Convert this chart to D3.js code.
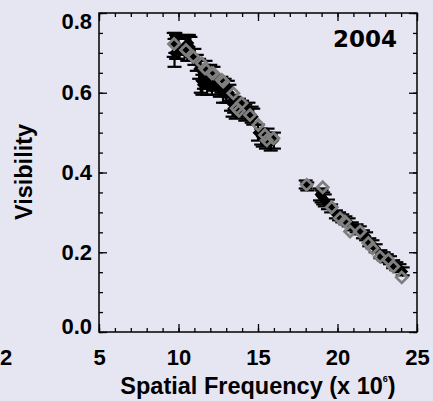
<!DOCTYPE html>
<html><head><meta charset="utf-8">
<script src="https://cdn.jsdelivr.net/npm/d3@7"></script>
<style>html,body{margin:0;padding:0;background:#e6e6f2;}svg{display:block}</style>
</head><body><svg id="c" width="433" height="401"></svg>
<script>
// ---- data ----
const xTicks = [5, 10, 15, 20, 25];
const yTicks = [0.0, 0.2, 0.4, 0.6, 0.8];
const yearLabel = "2004";
const xTitle = "Spatial Frequency (x 10";
const xTitleSup = "6";
const yTitle = "Visibility";
// observed visibilities (black, with error bars)
const obsFreq = [9.70, 9.75, 9.80, 9.85, 9.90, 10.00, 10.45, 10.55, 10.65, 10.75, 11.00, 11.15,
                 11.30, 11.40, 11.50, 11.60, 11.70, 11.80, 11.90, 12.00, 12.10, 12.20, 12.30,
                 12.60, 12.70, 12.80, 12.90, 13.00, 13.10, 13.20,
                 13.30, 13.40, 13.50, 13.60, 13.80, 14.00, 14.20, 14.40, 14.60, 14.70,
                 15.00, 15.20, 15.30, 15.50, 15.60, 15.80, 16.00,
                 18.00, 18.10, 18.90, 19.00, 19.10, 19.20, 19.40, 19.60, 19.90, 20.10, 20.30, 20.50, 20.70, 20.90,
                 21.20, 21.40, 21.60, 21.80, 22.00, 22.20, 22.40, 22.70, 22.90, 23.10, 23.30, 23.50, 23.70, 23.90, 24.10];
const obsVis  = [0.720, 0.700, 0.725, 0.715, 0.720, 0.710, 0.720, 0.710, 0.725, 0.715, 0.690, 0.675,
                 0.660, 0.630, 0.620, 0.640, 0.655, 0.620, 0.630, 0.645, 0.615, 0.640, 0.625,
                 0.610, 0.620, 0.600, 0.615, 0.595, 0.610, 0.600,
                 0.575, 0.560, 0.570, 0.555, 0.565, 0.560, 0.550, 0.555, 0.545, 0.540,
                 0.500, 0.490, 0.485, 0.480, 0.490, 0.475, 0.480,
                 0.370, 0.365, 0.345, 0.340, 0.335, 0.330, 0.320, 0.310, 0.295, 0.290, 0.285, 0.280, 0.275, 0.265,
                 0.260, 0.255, 0.245, 0.240, 0.225, 0.220, 0.210, 0.195, 0.190, 0.185, 0.180, 0.170, 0.165, 0.160, 0.152];
const obsErr  = [0.030, 0.035, 0.025, 0.030, 0.020, 0.025, 0.025, 0.030, 0.020, 0.025, 0.020, 0.020,
                 0.025, 0.030, 0.025, 0.030, 0.025, 0.025, 0.020, 0.025, 0.020, 0.025, 0.020,
                 0.020, 0.020, 0.025, 0.020, 0.020, 0.020, 0.020,
                 0.020, 0.020, 0.020, 0.020, 0.020, 0.020, 0.020, 0.020, 0.020, 0.020,
                 0.020, 0.020, 0.020, 0.020, 0.020, 0.020, 0.020,
                 0.010, 0.010, 0.015, 0.015, 0.015, 0.015, 0.012, 0.010, 0.010, 0.010, 0.010, 0.010, 0.010, 0.010,
                 0.010, 0.010, 0.010, 0.010, 0.010, 0.010, 0.010, 0.010, 0.010, 0.010, 0.010, 0.010, 0.010, 0.010, 0.010];
// model visibilities (grey open diamonds)
const modelFreq = [9.72, 10.47, 10.93, 11.46, 11.67, 12.09, 12.19, 12.72, 12.82, 13.45, 13.66, 13.80, 13.97, 14.50, 15.02, 15.44, 15.55, 15.97,
                   18.06, 19.07, 19.64, 20.16, 20.47, 20.79, 21.42, 21.94, 22.20, 22.67, 23.20, 23.51, 24.04];
const modelVis  = [0.722, 0.707, 0.690, 0.674, 0.661, 0.649, 0.649, 0.632, 0.628, 0.599, 0.561, 0.555, 0.574, 0.544, 0.519, 0.494, 0.481, 0.486,
                   0.369, 0.363, 0.313, 0.285, 0.277, 0.252, 0.252, 0.223, 0.210, 0.189, 0.181, 0.164, 0.137];

// ---- chart ----
const svg = d3.select("#c");
const L = 99, R = 417, T = 13, B = 332;
const x = d3.scaleLinear().domain([5, 25]).range([L, R]);
const y = d3.scaleLinear().domain([0, 0.8]).range([B, T]);
const FONT = "'Liberation Sans', Arial, Helvetica, sans-serif";

const xMinor = d3.range(5, 25.001, 1);
const yMinor = d3.range(0, 0.8001, 0.05);

function styleAxis(g) {
  g.select(".domain").remove();
  g.selectAll(".tick line").attr("stroke", "#000").attr("stroke-width", 1.3);
  g.selectAll("text").attr("font-family", FONT).attr("font-weight", "bold").attr("font-size", 22).attr("fill", "#000");
}
// minor ticks
svg.append("g").attr("transform", `translate(0,${B})`).call(d3.axisBottom(x).tickValues(xMinor).tickSize(-4).tickFormat("")).call(styleAxis);
svg.append("g").attr("transform", `translate(0,${T})`).call(d3.axisTop(x).tickValues(xMinor).tickSize(-4).tickFormat("")).call(styleAxis);
svg.append("g").attr("transform", `translate(${L},0)`).call(d3.axisLeft(y).tickValues(yMinor).tickSize(-4).tickFormat("")).call(styleAxis);
svg.append("g").attr("transform", `translate(${R},0)`).call(d3.axisRight(y).tickValues(yMinor).tickSize(-4).tickFormat("")).call(styleAxis);
// major ticks
svg.append("g").attr("transform", `translate(0,${B})`)
  .call(d3.axisBottom(x).tickValues(xTicks).tickSize(-8).tickPadding(17).tickFormat(d3.format("d"))).call(styleAxis);
svg.append("g").attr("transform", `translate(0,${T})`).call(d3.axisTop(x).tickValues(xTicks).tickSize(-8).tickFormat("")).call(styleAxis);
const yl = svg.append("g").attr("transform", `translate(${L},0)`)
  .call(d3.axisLeft(y).tickValues(yTicks).tickSize(-8).tickPadding(7).tickFormat(d3.format(".1f"))).call(styleAxis);
svg.append("g").attr("transform", `translate(${R},0)`).call(d3.axisRight(y).tickValues(yTicks).tickSize(-8).tickFormat("")).call(styleAxis);
// keep end labels inside (as in the original)
yl.selectAll(".tick text").attr("transform", d => d === 0.8 ? "translate(0,8)" : (d === 0 ? "translate(0,-6)" : null));

// frame
svg.append("rect").attr("x", L).attr("y", T).attr("width", R - L).attr("height", B - T)
  .attr("fill", "none").attr("stroke", "#000").attr("stroke-width", 1.5);

// label from neighbouring panel (cut at the edge in the original)
svg.append("text").attr("x", 0).attr("y", 365).text("2")
  .attr("font-family", FONT).attr("font-weight", "bold").attr("font-size", 22);

// error bars
const obs = obsFreq.map((f, i) => ({ f, v: obsVis[i], e: obsErr[i] }));
const eg = svg.append("g").attr("stroke", "#000").attr("stroke-width", 2.2);
eg.selectAll("line.v").data(obs).join("line").attr("class", "v")
  .attr("x1", d => x(d.f)).attr("x2", d => x(d.f)).attr("y1", d => y(d.v - d.e)).attr("y2", d => y(d.v + d.e));
eg.selectAll("line.t").data(obs).join("line").attr("class", "t")
  .attr("x1", d => x(d.f) - 7).attr("x2", d => x(d.f) + 7).attr("y1", d => y(d.v + d.e)).attr("y2", d => y(d.v + d.e));
eg.selectAll("line.b").data(obs).join("line").attr("class", "b")
  .attr("x1", d => x(d.f) - 7).attr("x2", d => x(d.f) + 7).attr("y1", d => y(d.v - d.e)).attr("y2", d => y(d.v - d.e));
const diamond = s => `M0,${-s}L${s},0L0,${s}L${-s},0Z`;
svg.append("g").selectAll("path").data(obs).join("path")
  .attr("transform", d => `translate(${x(d.f)},${y(d.v)})`).attr("d", diamond(5.5)).attr("fill", "#000");

// model diamonds
svg.append("g").selectAll("path").data(modelFreq.map((f, i) => ({ f, v: modelVis[i] }))).join("path")
  .attr("transform", d => `translate(${x(d.f)},${y(d.v)})`).attr("d", diamond(5.5))
  .attr("fill", "none").attr("stroke", "#7f7f7f").attr("stroke-width", 2.8);

// year label
svg.append("text").attr("x", 397).attr("y", 47).attr("text-anchor", "end").text(yearLabel)
  .attr("font-family", "'DejaVu Sans', Verdana, sans-serif").attr("font-weight", "bold").attr("font-size", 23);

// axis titles
const xt = svg.append("text").attr("x", 258).attr("y", 394).attr("text-anchor", "middle")
  .attr("font-family", FONT).attr("font-weight", "bold").attr("font-size", 23.5);
xt.append("tspan").text(xTitle);
xt.append("tspan").attr("font-size", 9).attr("dy", -12).text(xTitleSup);
xt.append("tspan").attr("dy", 12).text(")");
svg.append("text").attr("transform", "translate(32,172) rotate(-90)").attr("text-anchor", "middle")
  .attr("font-family", FONT).attr("font-weight", "bold").attr("font-size", 23.5).text(yTitle);
</script></body></html>
